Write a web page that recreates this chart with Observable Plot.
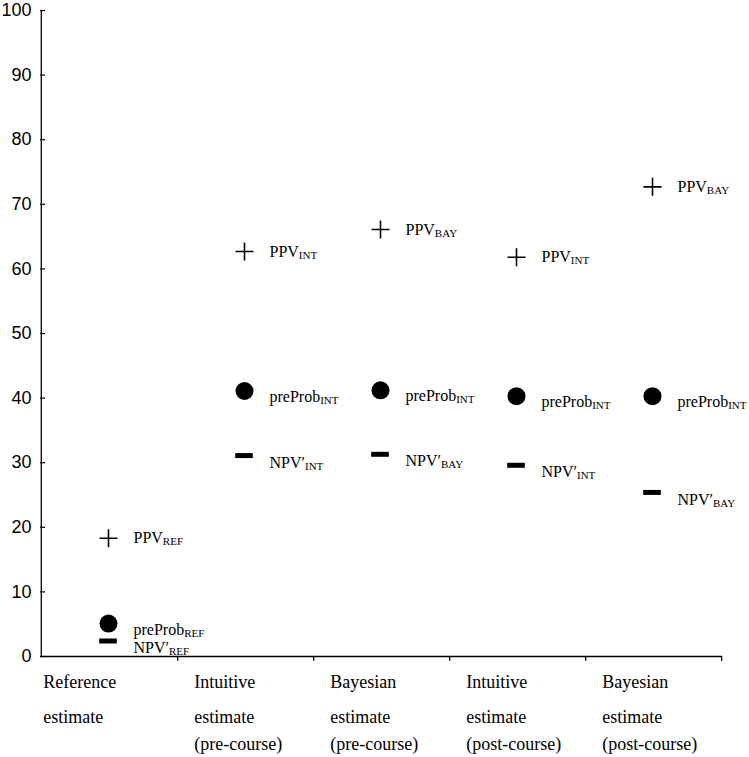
<!DOCTYPE html>
<html>
<head>
<meta charset="utf-8">
<script src="https://cdn.jsdelivr.net/npm/d3@7"></script>
<script src="https://cdn.jsdelivr.net/npm/@observablehq/plot@0.6"></script>
<style>
  html, body { margin: 0; padding: 0; background: #fff; }
</style>
</head>
<body>
<div id="chart"></div>
<script>
// ---- data ----
const categories = [
  "Reference\nestimate",
  "Intuitive\nestimate\n(pre-course)",
  "Bayesian\nestimate\n(pre-course)",
  "Intuitive\nestimate\n(post-course)",
  "Bayesian\nestimate\n(post-course)"
];
const ppvValues = [18.3, 62.7, 66.1, 61.8, 72.7];
const preProbValues = [5.1, 41.1, 41.2, 40.3, 40.3];
const npvValues = [2.4, 31.1, 31.3, 29.6, 25.4];
const ppvSubs = ["REF", "INT", "BAY", "INT", "BAY"];
const preProbSubs = ["REF", "INT", "INT", "INT", "INT"];
const npvSubs = ["REF", "INT", "BAY", "INT", "BAY"];
const yTicks = [0, 10, 20, 30, 40, 50, 60, 70, 80, 90, 100];

// ---- layout ----
const W = 749, H = 757;
const mL = 40, mR = 27, mT = 10, mB = 101;
const bw = (W - mL - mR) / categories.length;

const ppvRows = categories.map((c, i) => ({cat: c, v: ppvValues[i], label: "PPV_" + ppvSubs[i]}));
const preRows = categories.map((c, i) => ({cat: c, v: preProbValues[i], label: "preProb_" + preProbSubs[i]}));
const npvRows = categories.map((c, i) => ({cat: c, v: npvValues[i], label: "NPV\u2032_" + npvSubs[i]}));

const serif = "'Liberation Serif', 'Times New Roman', serif";
const sans = "'Liberation Sans', Arial, sans-serif";

// one axis mark per text line of the category labels (uneven line spacing in the original)
const linePads = [19, 54, 81];
const categoryLineAxes = linePads.flatMap((pad, k) => [
  Plot.axisX([categories[0]], {
    label: null, tickSize: 0, tickPadding: pad, dx: -bw / 2 + 2, textAnchor: "start",
    fontSize: 18, fontFamily: serif, fill: "black",
    tickFormat: d => d.split("\n")[k] ?? ""
  }),
  Plot.axisX(categories.slice(1), {
    label: null, tickSize: 0, tickPadding: pad, dx: -bw / 2 + 17, textAnchor: "start",
    fontSize: 18, fontFamily: serif, fill: "black",
    tickFormat: d => d.split("\n")[k] ?? ""
  })
]);

const chart = Plot.plot({
  width: W,
  height: H,
  marginLeft: mL,
  marginRight: mR,
  marginTop: mT,
  marginBottom: mB,
  style: {background: "white", color: "black", fontFamily: serif, fontSize: "16px", overflow: "visible"},
  x: {type: "band", domain: categories, padding: 0, axis: null, label: null},
  y: {domain: [0, 100], axis: null, label: null},
  marks: [
    // axis lines
    Plot.ruleY([0], {stroke: "black", strokeWidth: 1.3}),
    Plot.ruleX([categories[0]], {dx: -bw / 2, y1: 0, y2: 100, stroke: "black", strokeWidth: 1.3}),
    // y ticks (pointing inward) and labels
    Plot.axisY(yTicks, {label: null, tickSize: 5, dx: 5, tickFormat: () => "", stroke: "black", strokeWidth: 1.2}),
    Plot.axisY(yTicks, {label: null, tickSize: 0, tickPadding: 9, fontSize: 18, fontFamily: sans, fill: "black"}),
    // x separators
    Plot.axisX(categories, {label: null, tickSize: 5, dx: bw / 2, tickFormat: () => "", stroke: "black", strokeWidth: 1.2}),
    // x category labels
    ...categoryLineAxes,
    // markers
    Plot.dot(ppvRows, {x: "cat", y: "v", symbol: "plus", r: 5.86, stroke: "black", strokeWidth: 1.6, dx: -1}),
    Plot.dot(preRows, {x: "cat", y: "v", r: 9, fill: "black", stroke: "none", dx: -1}),
    Plot.tickY(npvRows, {x: "cat", y: "v", stroke: "black", strokeWidth: 5, insetLeft: (bw - 18) / 2 - 1, insetRight: (bw - 18) / 2 + 1}),
    // labels
    Plot.text(ppvRows, {x: "cat", y: "v", text: "label", dx: 24, dy: 0, textAnchor: "start", fontSize: 16, fontFamily: serif, fill: "black"}),
    Plot.text(preRows, {x: "cat", y: "v", text: "label", dx: 24, dy: 6, textAnchor: "start", fontSize: 16, fontFamily: serif, fill: "black"}),
    Plot.text(npvRows, {x: "cat", y: "v", text: "label", dx: 24, dy: 7, textAnchor: "start", fontSize: 16, fontFamily: serif, fill: "black"})
  ]
});

// subscripts
const ns = "http://www.w3.org/2000/svg";
chart.querySelectorAll("text").forEach(t => {
  if (t.children.length) return;
  const s = t.textContent;
  if (!s.includes("_")) return;
  const parts = s.split("_");
  t.textContent = parts[0];
  const ts = document.createElementNS(ns, "tspan");
  ts.setAttribute("font-size", "11");
  ts.setAttribute("dy", "2");
  ts.textContent = parts[1];
  t.appendChild(ts);
});

document.getElementById("chart").appendChild(chart);
</script>
</body>
</html>
